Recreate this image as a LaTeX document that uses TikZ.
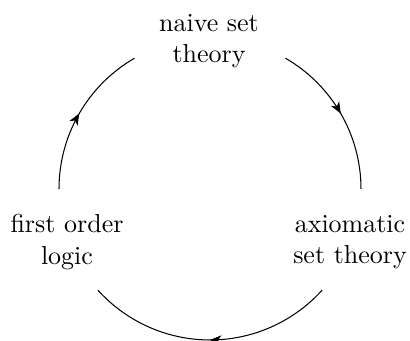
\documentclass[tikz,border=0pt]{standalone}
\usetikzlibrary{decorations.markings,calc,arrows.meta}
\begin{document}
\begin{tikzpicture}[x=0.385pt,y=0.385pt,
  lbl/.style={align=center,inner sep=0pt},
  midarrow/.style={decoration={markings,mark=at position 0.5 with {\arrow{Stealth[length=4.4pt,width=3.6pt,inset=1.3pt]}}},postaction={decorate}}]
\useasboundingbox (0,0) rectangle (410,341);
\def\R{151}
\coordinate (c) at (210,152);
\node[lbl] (naive) at (209,300) {naive set\\theory};
\node[lbl] (fol) at (67,99) {first order\\logic};
\node[lbl] (axi) at (350,99) {axiomatic\\set theory};
\coordinate (p60) at ($(c)+(60:\R)$);
\coordinate (p0) at ($(c)+(0:\R)$);
\coordinate (pm42) at ($(c)+(-42:\R)$);
\coordinate (p180) at ($(c)+(180:\R)$);
\draw[midarrow] (p60) arc[start angle=60,end angle=0,radius=\R];
\draw[midarrow] (pm42) arc[start angle=-42,end angle=-138,radius=\R];
\draw[midarrow] (p180) arc[start angle=180,end angle=120,radius=\R];
\end{tikzpicture}
\end{document}
